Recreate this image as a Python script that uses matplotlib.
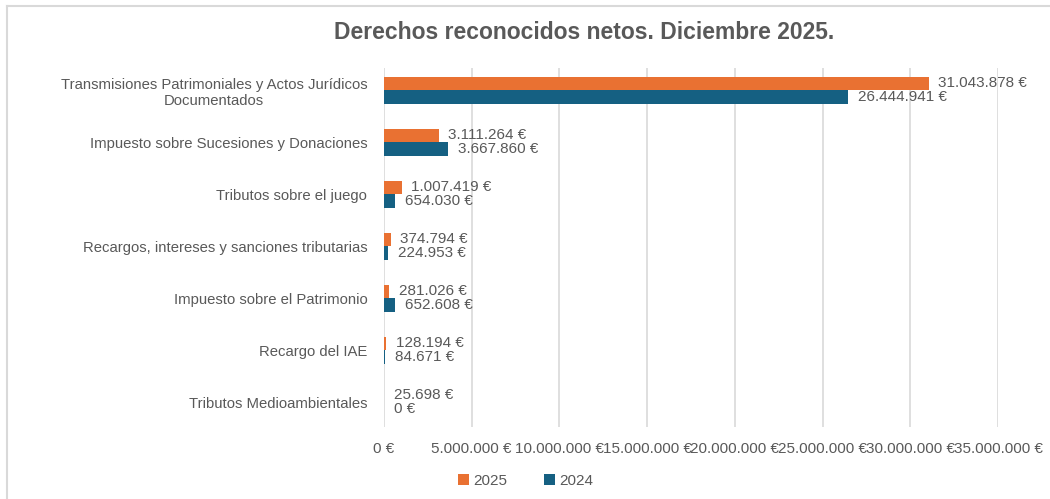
import matplotlib.pyplot as plt
from matplotlib.lines import Line2D
import numpy as np

plt.rcParams["font.family"] = ["Liberation Sans", "DejaVu Sans"]

categories = [
    "Transmisiones Patrimoniales y Actos Jurídicos\nDocumentados",
    "Impuesto sobre Sucesiones y Donaciones",
    "Tributos sobre el juego",
    "Recargos, intereses y sanciones tributarias",
    "Impuesto sobre el Patrimonio",
    "Recargo del IAE",
    "Tributos Medioambientales",
]
vals_2025 = [31043878, 3111264, 1007419, 374794, 281026, 128194, 25698]
vals_2024 = [26444941, 3667860, 654030, 224953, 652608, 84671, 0]
x_ticks = [0, 5000000, 10000000, 15000000, 20000000, 25000000, 30000000, 35000000]

ORANGE, BLUE = "#E97132", "#156082"
TXT, GRID = "#595959", "#D9D9D9"


def eur(v):
    return f"{v:,}".replace(",", ".") + " €"


fig = plt.figure(figsize=(10.5, 4.99), dpi=100)
ax = fig.add_axes([0.3657, 0.144, 0.9505 - 0.3657, 0.720])

y = np.arange(len(categories))
h = 0.26
b25 = ax.barh(y - h / 2, vals_2025, h, color=ORANGE, label="2025")
b24 = ax.barh(y + h / 2, vals_2024, h, color=BLUE, label="2024")

for bars, vals in [(b25, vals_2025), (b24, vals_2024)]:
    for b, v in zip(bars, vals):
        ax.annotate(eur(v), (b.get_width(), b.get_y() + b.get_height() / 2),
                    xytext=(7, 0), textcoords="offset points",
                    ha="left", va="center", fontsize=11, color=TXT)

ax.set_xlim(0, 35000000)
ax.set_ylim(6.48, -0.43)
ax.set_xticks(x_ticks)
ax.set_xticklabels([eur(t) for t in x_ticks])
ax.set_yticks(y)
ax.set_yticklabels(categories, multialignment="center")
ax.tick_params(axis="x", length=0, labelsize=11, colors=TXT, pad=11)
ax.tick_params(axis="y", length=0, labelsize=10.7, colors=TXT, pad=12)
for s in ax.spines.values():
    s.set_visible(False)
ax.grid(axis="x", color=GRID, lw=1.2)
ax.set_axisbelow(True)

fig.text(0.556, 0.934, "Derechos reconocidos netos. Diciembre 2025.",
         ha="center", va="center", fontsize=16.5, fontweight="bold", color=TXT)

fig.legend(handles=[b25, b24], loc="center", bbox_to_anchor=(0.501, 0.036),
           ncol=2, frameon=False, fontsize=11, labelcolor=TXT,
           handlelength=0.7, handleheight=0.7, handletextpad=0.3, columnspacing=2.4)

# outer chart frame (top and left edges visible)
fig.add_artist(Line2D([7 / 1050, 1], [1 - 6 / 499] * 2, color=GRID, lw=1.5))
fig.add_artist(Line2D([7 / 1050] * 2, [0, 1 - 6 / 499], color=GRID, lw=1.5))

fig.savefig("out.png", dpi=100)
